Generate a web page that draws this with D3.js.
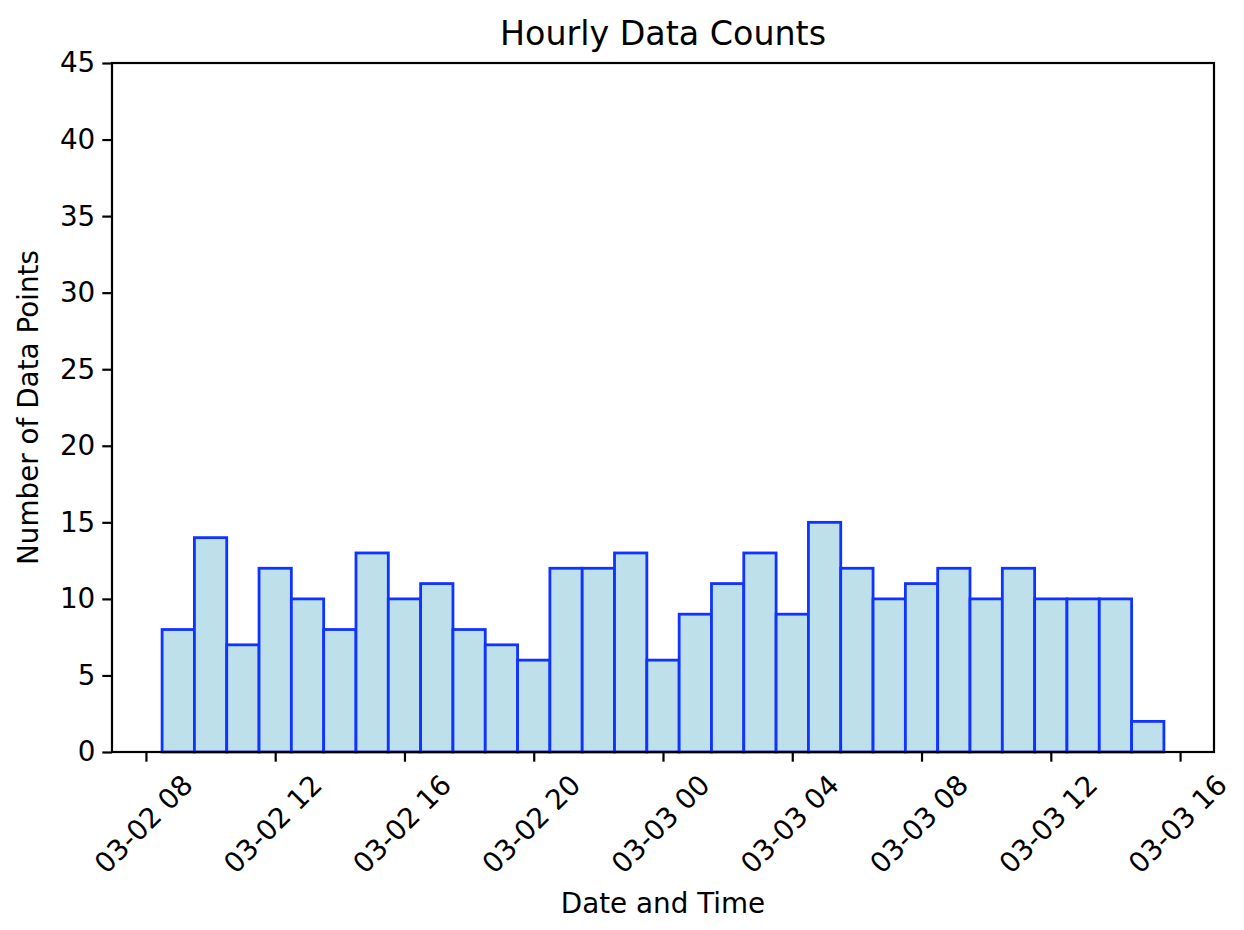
<!DOCTYPE html>
<html><head><meta charset="utf-8">
<script src="https://cdn.jsdelivr.net/npm/d3@7"></script>
<style>body{margin:0;background:#fff}svg{display:block;font-family:"DejaVu Sans",sans-serif}</style>
</head><body>
<svg id="c" width="1244" height="930"></svg>
<script>
const hours = ["2024-03-02T09:00","2024-03-02T10:00","2024-03-02T11:00","2024-03-02T12:00","2024-03-02T13:00","2024-03-02T14:00","2024-03-02T15:00","2024-03-02T16:00","2024-03-02T17:00","2024-03-02T18:00","2024-03-02T19:00","2024-03-02T20:00","2024-03-02T21:00","2024-03-02T22:00","2024-03-02T23:00","2024-03-03T00:00","2024-03-03T01:00","2024-03-03T02:00","2024-03-03T03:00","2024-03-03T04:00","2024-03-03T05:00","2024-03-03T06:00","2024-03-03T07:00","2024-03-03T08:00","2024-03-03T09:00","2024-03-03T10:00","2024-03-03T11:00","2024-03-03T12:00","2024-03-03T13:00","2024-03-03T14:00","2024-03-03T15:00"];
const counts = [8,14,7,12,10,8,13,10,11,8,7,6,12,12,13,6,9,11,13,9,15,12,10,11,12,10,12,10,10,10,2];
const yTicks = [0,5,10,15,20,25,30,35,40,45];
const xTickTimes = ["2024-03-02T08:00","2024-03-02T12:00","2024-03-02T16:00","2024-03-02T20:00","2024-03-03T00:00","2024-03-03T04:00","2024-03-03T08:00","2024-03-03T12:00","2024-03-03T16:00"];

const parse = d3.timeParse("%Y-%m-%dT%H:%M");
const H = 3600e3;
const times = hours.map(parse);
const L=112,R=1214,T=63,B=752;
const x0 = +times[0]-H/2, x1 = +times[times.length-1]+H/2, pad=(x1-x0)*0.05;
const x = d3.scaleTime().domain([new Date(x0-pad), new Date(x1+pad)]).range([L,R]);
const y = d3.scaleLinear().domain([0,45]).range([B,T]);
const svg = d3.select("#c");

svg.append("g").selectAll("rect").data(counts).join("rect")
  .attr("x",(d,i)=>x(new Date(+times[i]-H/2)))
  .attr("width",(d,i)=>x(new Date(+times[i]+H/2))-x(new Date(+times[i]-H/2)))
  .attr("y",d=>y(d)).attr("height",d=>B-y(d))
  .attr("fill","#bde0eb").attr("stroke","#1133ff").attr("stroke-width",2.8);

const fs=27.8;
const xa = svg.append("g").attr("transform",`translate(0,${B})`)
  .call(d3.axisBottom(x).tickValues(xTickTimes.map(parse)).tickFormat(d3.timeFormat("%m-%d %H")).tickSize(9.7));
xa.selectAll("text").attr("font-size",fs).attr("font-family","DejaVu Sans").attr("fill","#000")
  .attr("text-anchor","middle").attr("dy","0.35em").attr("y",0).attr("x",0)
  .attr("transform","translate(-3,72) rotate(-45)");
const ya = svg.append("g").attr("transform",`translate(${L},0)`)
  .call(d3.axisLeft(y).tickValues(yTicks).tickSize(9.7).tickPadding(7));
ya.selectAll("text").attr("font-size",fs).attr("font-family","DejaVu Sans").attr("fill","#000");
[xa,ya].forEach(a=>{a.select(".domain").remove();a.selectAll("line").attr("stroke","#000").attr("stroke-width",2.2);});
svg.append("rect").attr("x",L).attr("y",T).attr("width",R-L).attr("height",B-T)
  .attr("fill","none").attr("stroke","#000").attr("stroke-width",2.2);

svg.append("text").attr("x",(L+R)/2).attr("y",45).attr("text-anchor","middle").attr("font-size",33.3).text("Hourly Data Counts");
svg.append("text").attr("x",(L+R)/2).attr("y",913).attr("text-anchor","middle").attr("font-size",fs).text("Date and Time");
svg.append("text").attr("transform",`translate(38,${(T+B)/2}) rotate(-90)`).attr("text-anchor","middle").attr("font-size",fs).text("Number of Data Points");
</script></body></html>
